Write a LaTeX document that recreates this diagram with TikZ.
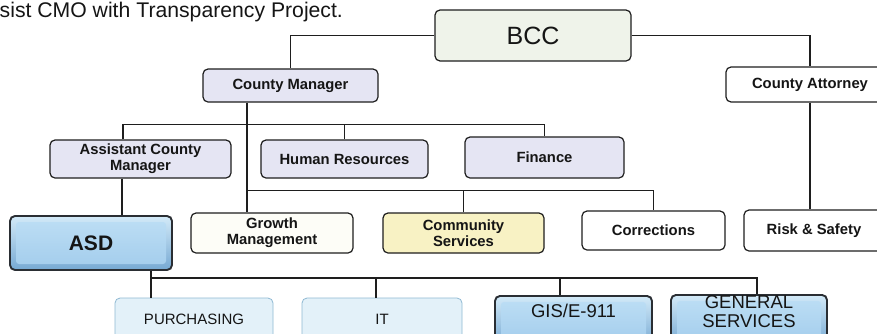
\documentclass[tikz,border=0pt]{standalone}
\usepackage{fontspec}
\setmainfont{Liberation Sans}
\usetikzlibrary{calc}
\definecolor{lineC}{HTML}{1E1E1E}
\definecolor{txtC}{HTML}{151515}
\definecolor{lavF}{HTML}{E5E5F3}
\definecolor{bccF}{HTML}{EFF3EA}
\definecolor{gmF}{HTML}{FDFDF7}
\definecolor{csF}{HTML}{F8F2C4}
\definecolor{paleF}{HTML}{E3F1F9}
\definecolor{paleB}{HTML}{8FB9D3}
\definecolor{bevelTop}{HTML}{D3EAF8}
\definecolor{bevelBot}{HTML}{76A9D3}
\definecolor{faceTop}{HTML}{BEDFF5}
\definecolor{faceBot}{HTML}{A2CCEC}
\definecolor{glossB}{HTML}{2A2E33}
\begin{document}
\begin{tikzpicture}[x=1pt,y=-1pt,
  orgbox/.style={draw=lineC, line width=1.2, rounded corners=5, inner sep=0, align=center, text=txtC},
  boldlbl/.style={font=\fontsize{14.8}{16}\selectfont\bfseries},
  lav/.style={orgbox, boldlbl, fill=lavF},
  plain/.style={orgbox, boldlbl, fill=white},
  gloss/.style={orgbox, draw=glossB, line width=1.9, top color=bevelTop, bottom color=bevelBot,
    path picture={
      \shade[top color=faceTop, bottom color=faceBot, rounded corners=3]
        ([xshift=6pt,yshift=6pt]path picture bounding box.south west) rectangle
        ([xshift=-6pt,yshift=-6pt]path picture bounding box.north east);}},
  glosstext/.style={inner sep=0, align=center, text=txtC, font=\fontsize{18.5}{19}\selectfont},
  pale/.style={orgbox, draw=paleB, line width=0.8, fill=paleF, font=\fontsize{15}{18}\selectfont},
  conn/.style={draw=lineC, line width=1.5}]
\useasboundingbox (0,0) rectangle (877,333);
\clip (0,0) rectangle (877,333);
\fill[white] (0,0) rectangle (877,333);

% heading line
\node[anchor=base west, inner sep=0, text=txtC, font=\fontsize{21.2}{24}\selectfont] (hdr) at (-0.5,17.5) {sist CMO with Transparency Project.};

% top levels
\node[orgbox, fill=bccF, minimum width=196, minimum height=51, font=\fontsize{25}{30}\selectfont] (bcc) at (533,35.5) {BCC};
\node[lav, minimum width=175, minimum height=33] (cm) at (290.5,85.5) {County Manager};
\node[plain, minimum width=168, minimum height=35] (ca) at (810,84.5) {County Attorney};

% second row
\node[lav, minimum width=181, minimum height=38] (acm) at (140.5,159) {Assistant County\\Manager};
\node[lav, minimum width=167, minimum height=38] (hr) at (344.5,159) {Human Resources};
\node[lav, minimum width=159, minimum height=41] (fin) at (544.5,157.5) {Finance};

% third row
\node[gloss, minimum width=162, minimum height=54, font=\fontsize{21}{24}\selectfont\bfseries] (asd) at (91,243) {ASD};
\node[plain, fill=gmF, minimum width=162, minimum height=40] (gm) at (272,233) {Growth\\Management};
\node[plain, fill=csF, minimum width=161, minimum height=40] (cs) at (463.5,233) {Community\\Services};
\node[plain, minimum width=143, minimum height=39] (cor) at (653.5,230.5) {Corrections};
\node[plain, minimum width=140, minimum height=41] (risk) at (814,230.5) {Risk \& Safety};

% divisions under ASD
\node[pale, minimum width=158, minimum height=43] (pur) at (194,319.5) {PURCHASING};
\node[pale, minimum width=160, minimum height=43] (it) at (382,319.5) {IT};
\node[gloss, minimum width=157, minimum height=50, anchor=north] (gis) at (573.5,295) {};
\node[glosstext] (gisT) at ([yshift=-15.5]gis.north) {GIS/E-911};
\node[gloss, minimum width=156, minimum height=50, anchor=north] (gs) at (749,294) {};
\node[glosstext] (gsT) at ([yshift=-18]gs.north) {GENERAL\\SERVICES};

% connectors
\draw[conn] (bcc.west) -| (cm.north);
\draw[conn] (bcc.east) -| (ca.north);
\draw[conn] (ca.south) -- (ca.south |- risk.north);
\draw[conn] ([xshift=-17.5]acm.north) -- ++(0,-15) -| (fin.north);
\draw[conn] (hr.north) -- ++(0,-15);
\draw[conn] ([xshift=-43.5]cm.south) -- ([xshift=-25]gm.north);
\draw[conn] ([xshift=-25]gm.north) ++(0,-22) -| (cor.north);
\draw[conn] (cs.north) -- ++(0,-22);
\draw[conn] ([xshift=-18.5]acm.south) -- ([xshift=31]asd.north);
\draw[conn] ([xshift=60]asd.south) -- ([xshift=-43]pur.north);
\draw[conn] ([xshift=60]asd.south) ++(0,7) -| ([xshift=8]gs.north);
\draw[conn] ([xshift=-6]it.north) -- ++(0,-21);
\draw[conn] ([xshift=-13.5]gis.north) -- ++(0,-18);
\end{tikzpicture}
\end{document}
